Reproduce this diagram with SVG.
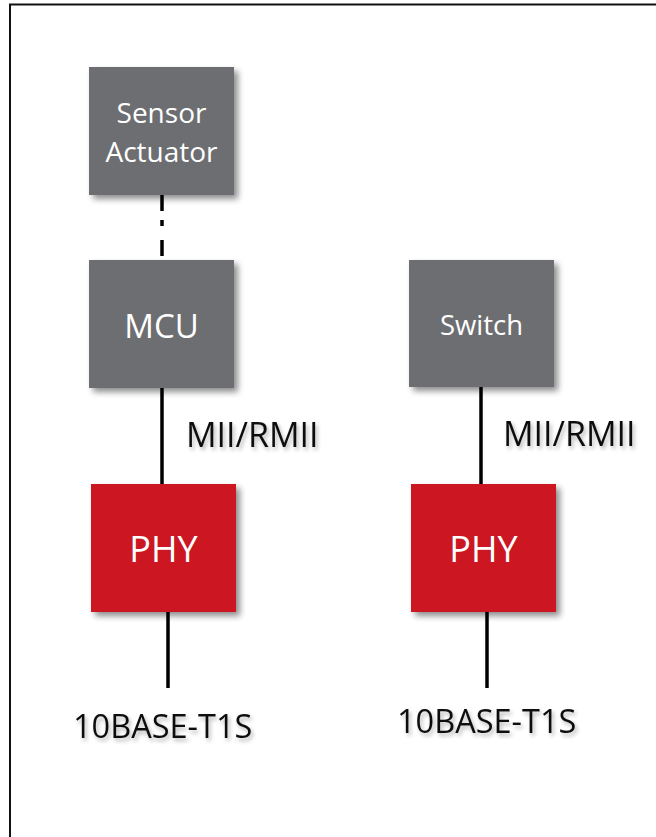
<svg xmlns="http://www.w3.org/2000/svg" width="656" height="837" viewBox="0 0 656 837">
<defs>
<filter id="sh" x="-20%" y="-20%" width="150%" height="150%">
<feGaussianBlur in="SourceAlpha" stdDeviation="3"/>
<feOffset dx="4" dy="4" result="b"/>
<feComponentTransfer><feFuncA type="linear" slope="0.45"/></feComponentTransfer>
<feMerge><feMergeNode/><feMergeNode in="SourceGraphic"/></feMerge>
</filter>
<filter id="tsh" x="-20%" y="-40%" width="140%" height="180%">
<feGaussianBlur in="SourceAlpha" stdDeviation="2"/>
<feOffset dx="2" dy="3" result="b"/>
<feComponentTransfer><feFuncA type="linear" slope="0.3"/></feComponentTransfer>
<feMerge><feMergeNode/><feMergeNode in="SourceGraphic"/></feMerge>
</filter>
</defs>
<style>
.grey{fill:#6d6e71}
.red{fill:#cc1720}
.wt{fill:#ffffff;font-family:"Open Sans","Noto Sans",sans-serif;text-anchor:middle}
.bt{fill:#111111;font-family:"Open Sans","Noto Sans",sans-serif}
.ln{stroke:#000;stroke-width:3.5;fill:none}
</style>
<rect width="656" height="837" fill="#fff"/>
<path d="M10 837 V4.5 H656" fill="none" stroke="#111" stroke-width="2"/>
<g id="connectors">
<line class="ln" x1="162" y1="195" x2="162" y2="211"/>
<line class="ln" x1="162" y1="220" x2="162" y2="226"/>
<line class="ln" x1="162" y1="240" x2="162" y2="256"/>
<line class="ln" x1="162" y1="388" x2="162" y2="484"/>
<line class="ln" x1="168" y1="612" x2="168" y2="688"/>
<line class="ln" x1="481" y1="387" x2="481" y2="484"/>
<line class="ln" x1="487" y1="612" x2="487" y2="688"/>
</g>
<g id="sensor">
<rect class="grey" x="89" y="67" width="145" height="128" filter="url(#sh)"/>
<text class="wt" x="161.5" y="123" font-size="28">Sensor</text>
<text class="wt" x="161.5" y="162" font-size="28">Actuator</text>
</g>
<g id="mcu">
<rect class="grey" x="89" y="260" width="145" height="128" filter="url(#sh)"/>
<text class="wt" x="161.5" y="338" font-size="33">MCU</text>
</g>
<g id="switch">
<rect class="grey" x="409" y="260" width="145" height="127" filter="url(#sh)"/>
<text class="wt" x="481.5" y="335" font-size="27.5">Switch</text>
</g>
<g id="phy1">
<rect class="red" x="91" y="484" width="145" height="128" filter="url(#sh)"/>
<text class="wt" x="163.5" y="562" font-size="36">PHY</text>
</g>
<g id="phy2">
<rect class="red" x="411" y="484" width="145" height="128" filter="url(#sh)"/>
<text class="wt" x="483.5" y="562" font-size="36">PHY</text>
</g>
<g id="labels" filter="url(#tsh)">
<text class="bt" x="186" y="447" font-size="34">MII/RMII</text>
<text class="bt" x="503" y="446" font-size="34">MII/RMII</text>
<text class="bt" x="73" y="738" font-size="32.5">10BASE-T1S</text>
<text class="bt" x="397" y="733" font-size="32.5">10BASE-T1S</text>
</g>
</svg>
